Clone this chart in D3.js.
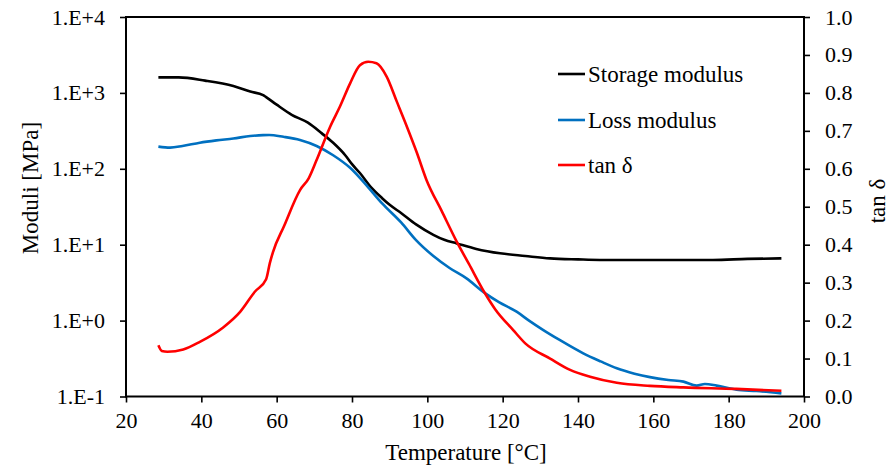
<!DOCTYPE html>
<html><head><meta charset="utf-8">
<script src="https://cdn.jsdelivr.net/npm/d3@7"></script>
<style>body{margin:0;background:#fff}svg{display:block}</style>
</head><body><svg id="c" width="891" height="471"></svg>
<script>
// ---- data ----
const storageT = [28.6,34,41,48.5,53,56.4,57.2,60,64,68.3,72,75,78.2,80,82.1,85.2,88,90,93.1,97,101.6,104.5,107.8,113,119.3,126,132.6,140,145.8,160,175.8,185,194];
const storageE = [1600,1600,1450,1230,1040,935,880,700,515,405,293,220,151,115,88,56,41,33.5,26,18.5,13.5,11.6,10.4,8.8,7.7,7.1,6.6,6.4,6.3,6.3,6.3,6.5,6.6];
const lossT = [28.6,31.7,35,39.6,44,48.5,53,56.4,58,61.8,66.2,70.6,75,79.5,84.3,88,93.1,97,101.6,106,110.4,115.3,119,123.7,127,130.8,135,141.4,146,150.3,155,159.1,164,168,171.5,173.7,176.8,182.1,187.4,194];
const lossE = [196,190,200,221,237,251,270,278,279,264,240,200,151,103,57,35,19.5,11.5,7.1,4.9,3.6,2.3,1.75,1.31,1.0,0.75,0.56,0.37,0.29,0.235,0.2,0.18,0.165,0.157,0.139,0.146,0.139,0.123,0.118,0.110];
const tanT = [28.6,29.5,31,35.2,39.6,45.8,50.3,54.2,57.2,58.2,59,62,66.2,68.5,70.6,74.2,76.8,79.5,82.1,84.3,86.5,89.2,91.9,94.5,97.2,99.8,103.8,107.8,111,115.3,118,122.8,126,132.6,137.9,143.2,150.3,159.1,168,182,194];
const tanD = [0.135,0.12,0.118,0.124,0.144,0.182,0.223,0.276,0.309,0.352,0.38,0.45,0.544,0.575,0.623,0.711,0.764,0.825,0.873,0.882,0.878,0.843,0.777,0.713,0.643,0.570,0.489,0.408,0.35,0.272,0.23,0.175,0.14,0.10,0.07,0.052,0.036,0.028,0.024,0.02,0.015];
const xTicks = [20,40,60,80,100,120,140,160,180,200];
const leftTicks = [0.1,1,10,100,1000,10000];
const leftTickLabels = ["1.E-1","1.E+0","1.E+1","1.E+2","1.E+3","1.E+4"];
const rightTicks = [0,0.1,0.2,0.3,0.4,0.5,0.6,0.7,0.8,0.9,1.0];
const seriesNames = ["Storage modulus","Loss modulus","tan \u03b4"];
const seriesColors = ["#000000","#0070C0","#FF0000"];

// ---- layout ----
const FF='Liberation Serif';
const L=126,R=804,T=17,B=396.5;
const svg=d3.select("#c");
const x=d3.scaleLinear().domain([20,200]).range([L,R]);
const yL=d3.scaleLog().domain([0.1,10000]).range([B,T]);
const yR=d3.scaleLinear().domain([0,1]).range([B,T]);

svg.append("rect").attr("x",L).attr("y",T).attr("width",R-L).attr("height",B-T)
  .attr("fill","none").attr("stroke","#000").attr("stroke-width",2);

const ax=(g)=>{g.attr("font-family",null);g.select(".domain").remove();g.selectAll("line").attr("stroke","#000").attr("stroke-width",1.6);
  g.selectAll("text").style("font-size","22px").style("font-family",FF).attr("fill","#000");};
svg.append("g").attr("transform",`translate(0,${B})`)
  .call(d3.axisBottom(x).tickValues(xTicks).tickSize(6).tickPadding(10).tickFormat(d3.format("d"))).call(ax);
svg.append("g").attr("transform",`translate(${L},0)`)
  .call(d3.axisLeft(yL).tickValues(leftTicks).tickSize(6).tickPadding(15).tickFormat((d,i)=>leftTickLabels[i])).call(ax);
svg.append("g").attr("transform",`translate(${R},0)`)
  .call(d3.axisRight(yR).tickValues(rightTicks).tickSize(6).tickPadding(15).tickFormat(d3.format(".1f"))).call(ax);

const curve=d3.curveMonotoneX;
const lineL=(ts,vs)=>d3.line().curve(curve).x((d,i)=>x(ts[i])).y(d=>yL(d))(vs);
const lineR=d3.line().curve(curve).x((d,i)=>x(tanT[i])).y(d=>yR(d));
svg.append("path").attr("d",lineL(storageT,storageE)).attr("fill","none").attr("stroke",seriesColors[0]).attr("stroke-width",2.6).attr("stroke-linejoin","round");
svg.append("path").attr("d",lineL(lossT,lossE)).attr("fill","none").attr("stroke",seriesColors[1]).attr("stroke-width",2.6).attr("stroke-linejoin","round");
svg.append("path").attr("d",lineR(tanD)).attr("fill","none").attr("stroke",seriesColors[2]).attr("stroke-width",2.6).attr("stroke-linejoin","round");

const txt=(s)=>s.style("font-family",FF).style("font-size","23px").attr("fill","#000");
txt(svg.append("text").attr("transform","translate(30,188) rotate(-90)").attr("text-anchor","middle").attr("dominant-baseline","central").text("Moduli [MPa]"));
txt(svg.append("text").attr("transform","translate(877,201) rotate(-90)").attr("text-anchor","middle").attr("dominant-baseline","central").text("tan \u03b4"));
txt(svg.append("text").attr("x",466).attr("y",460).attr("text-anchor","middle").text("Temperature [\u00b0C]"));

const ly=[74,120,165];
seriesNames.forEach((n,i)=>{
  svg.append("line").attr("x1",558).attr("x2",585).attr("y1",ly[i]).attr("y2",ly[i]).attr("stroke",seriesColors[i]).attr("stroke-width",2.6);
  txt(svg.append("text").attr("x",588).attr("y",ly[i]+8).text(n));
});
</script></body></html>
